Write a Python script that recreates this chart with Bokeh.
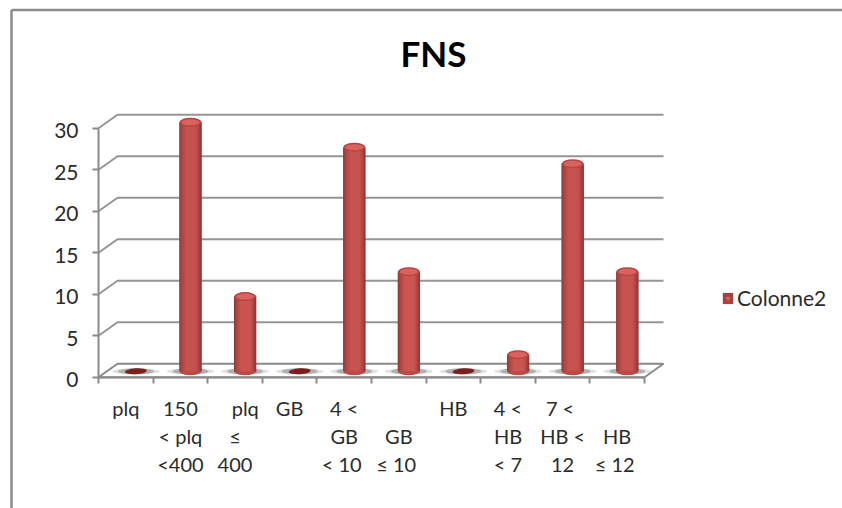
from bokeh.plotting import figure
from bokeh.models import Range1d, LinearAxis, FixedTicker, Legend, LegendItem, ColumnDataSource
from bokeh.core.properties import value
from bokeh.embed import file_html
from bokeh.resources import INLINE

title = "FNS"
series_name = "Colonne2"
categories = ["plq", "150\n< plq\n<400", "\u00a0\u00a0\u00a0\u00a0plq\n\u2264\n400", "GB", "4 <\nGB\n<  10",
              "\u00a0\nGB\n\u2264  10", "HB", "4 <\nHB\n< 7", "7  <\nHB <\n12", "\u00a0\nHB\n\u2264  12"]
values = [0, 30, 9, 0, 27, 12, 0, 2, 25, 12]
y_ticks = [0, 5, 10, 15, 20, 25, 30]

W, H = 842, 508
X0, XS, Y0, YS = 98.0, 54.6, 376.7, 8.3
def dx(px): return (px - X0) / XS
def dy(py): return (Y0 - py) / YS

FONT = "Lato"
GRAY = "#8a8a8a"
TEXT = "#2b2b2b"
DX, DY = 19 / XS, 13.5 / YS
n = len(categories)

p = figure(width=W, height=H, output_backend="svg", toolbar_location=None,
           x_range=Range1d(dx(0), dx(W)), y_range=Range1d(dy(H), dy(0)),
           x_axis_location=None, y_axis_location=None, min_border=0,
           outline_line_color=None, background_fill_color="white", border_fill_color="white")
p.xgrid.visible = False
p.ygrid.visible = False

# chart border
p.multi_line([[dx(11), dx(W)], [dx(11), dx(11)]], [[dy(9.5), dy(9.5)], [dy(9.5), dy(H)]],
             line_color="#8c8c8c", line_width=2.5)

# walls
p.multi_line([[0, DX, n + DX] for t in y_ticks[1:]], [[t, t + DY, t + DY] for t in y_ticks[1:]],
             line_color=GRAY, line_width=2, line_alpha=0.9)
# floor
p.patch([0, DX, n + DX, n], [0, DY, DY, 0], fill_color="white", line_color=GRAY, line_width=2)

# bars
BW = 22 / XS
base = DY / 2 - 0.1
cx = [i + 0.685 for i in range(n)]
sh = ColumnDataSource(dict(x=cx, y=[base] * n))
p.ellipse("x", "y", source=sh, width=48, height=6, width_units="screen", height_units="screen",
          fill_color="#c4c4c4", fill_alpha=0.5, line_color=None)
p.ellipse("x", "y", source=sh, width=36, height=6, width_units="screen", height_units="screen",
          fill_color="#7d7d7d", fill_alpha=0.5, line_color=None)

drawn = [(c, v) for c, v in zip(cx, values) if v > 0]
flat = [c for c, v in zip(cx, values) if v == 0]
tops = [v + base for c, v in drawn]
p.ellipse(flat, [base] * len(flat), width=22, height=6, width_units="screen", height_units="screen",
          angle=0.06, fill_color="#7b1f1e", line_color=None)
p.ellipse([c for c, v in drawn], [base] * len(drawn), width=BW, height=8, height_units="screen",
          fill_color="#b84b48", line_color=None)
main = p.vbar([c for c, v in drawn], width=BW, top=tops, bottom=base, fill_color="#a8423f", line_color=None)

STRIPS = 22
def shade(t):
    a = (0x8c, 0x36, 0x34)
    b = (0xcb, 0x55, 0x51)
    c = (0x8a, 0x35, 0x33)
    if t < 0.32:
        k = (t / 0.32) ** 0.7
        r = [a[i] + (b[i] - a[i]) * k for i in range(3)]
    elif t < 0.72:
        r = b
    else:
        k = ((t - 0.72) / 0.28) ** 1.4
        r = [b[i] + (c[i] - b[i]) * k for i in range(3)]
    return "#%02x%02x%02x" % tuple(int(q) for q in r)

for j in range(STRIPS):
    t = (j + 0.5) / STRIPS
    col = shade(t)
    p.vbar([c - BW / 2 + BW * t for c, v in drawn], width=BW / STRIPS * 1.3, top=tops, bottom=base,
           fill_color=col, line_color=None)
p.ellipse([c for c, v in drawn], tops, width=BW, height=9, height_units="screen",
          fill_color="#b24744", line_color=None)
p.ellipse([c for c, v in drawn], tops, width=BW * 0.82, height=6, height_units="screen",
          fill_color="#dc625e", line_color=None)

# axes
yax = LinearAxis(fixed_location=0, bounds=(0, 30), ticker=FixedTicker(ticks=y_ticks),
                 axis_line_color=GRAY, axis_line_width=2, major_tick_line_color=GRAY, major_tick_line_width=2,
                 major_tick_in=0, major_tick_out=6, minor_tick_line_color=None,
                 major_label_text_color=None, major_label_text_font_size="1px")
p.add_layout(yax, "left")

LBL_DROP = 0.3
ylab = LinearAxis(fixed_location=0, ticker=FixedTicker(ticks=[t - LBL_DROP for t in y_ticks]),
                  major_label_overrides={t - LBL_DROP: str(t) for t in y_ticks},
                  axis_line_color=None, major_tick_line_color=None, minor_tick_line_color=None,
                  major_tick_in=0, major_tick_out=0, major_label_standoff=20,
                  major_label_text_font=FONT, major_label_text_font_size="21px", major_label_text_color=TEXT)
p.add_layout(ylab, "left")

xax = LinearAxis(fixed_location=0, bounds=(0, n), ticker=FixedTicker(ticks=list(range(n + 1))),
                 axis_line_color=GRAY, axis_line_width=2, major_tick_line_color=GRAY, major_tick_line_width=2,
                 major_tick_in=0, major_tick_out=6, minor_tick_line_color=None,
                 major_label_text_color=None, major_label_text_font_size="1px")
p.add_layout(xax, "below")

lab = LinearAxis(fixed_location=0, ticker=FixedTicker(ticks=[i + 0.5 for i in range(n)]),
                 major_label_overrides={i + 0.5: c for i, c in enumerate(categories)},
                 axis_line_color=None, major_tick_line_color=None, minor_tick_line_color=None,
                 major_tick_in=0, major_tick_out=0, major_label_standoff=19,
                 major_label_text_font=FONT, major_label_text_font_size="20px", major_label_text_color=TEXT,
                 major_label_text_line_height=1.16)
p.add_layout(lab, "below")

# title
p.text([dx(433)], [dy(52)], text=[title], text_font=value(FONT), text_font_style="bold",
       text_font_size="35px", text_align="center", text_baseline="middle", text_color="#000000")

# legend
OFF = [-1000]
tri = p.scatter(OFF, OFF, marker="inverted_triangle", size=9, fill_color="#dc625e", line_color=None)
legend = Legend(items=[LegendItem(label=series_name, renderers=[main, tri])], location=(721, 198),
                background_fill_alpha=0, border_line_color=None, glyph_width=13, glyph_height=14,
                label_text_font=FONT, label_text_font_size="21px", label_text_color=TEXT,
                label_standoff=3, padding=0, margin=0)
p.add_layout(legend, "center")

open("out.html", "w").write(file_html(p, INLINE))
